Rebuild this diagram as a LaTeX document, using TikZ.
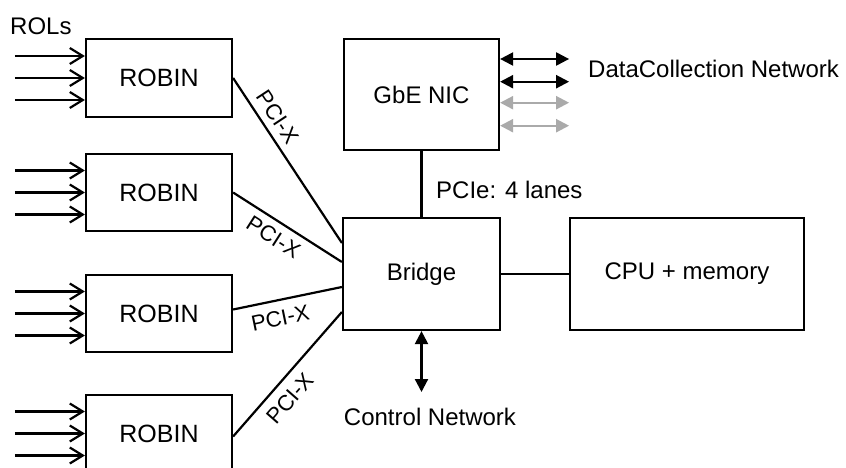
\documentclass[tikz,border=0pt]{standalone}
\usepackage{fontspec}
\setmainfont{Liberation Sans}
\usetikzlibrary{arrows.meta,calc}
\definecolor{lightgrayarrow}{HTML}{AAAAAA}
\begin{document}
\begin{tikzpicture}[x=1pt,y=-1pt,
  lw/.style={line width=2.2pt},
  box/.style={draw, line width=2.2pt, inner sep=0pt, font=\fontsize{24}{28}\selectfont},
  robin/.style={box, minimum width=146pt, minimum height=78pt, font=\fontsize{25}{30}\selectfont},
  lbl/.style={inner sep=0pt, font=\fontsize{24}{28}\selectfont},
  pcix/.style={sloped, inner sep=7pt, font=\fontsize{22}{26}\selectfont},
  rol/.style={line width=2.2pt, -{Straight Barb[length=13pt,width=16pt]}},
  dbl/.style={line width=2.2pt, {Triangle[length=13pt,width=13pt]}-{Triangle[length=13pt,width=13pt]}},
]
\useasboundingbox (0,0) rectangle (846,468);
\clip (0,0) rectangle (846,468);

% ROBIN boxes
\node[robin] (r1) at (159,78) {\raisebox{-2pt}{ROBIN}};
\node[robin, minimum height=77pt] (r2) at (159,192.5) {\raisebox{-2pt}{ROBIN}};
\node[robin, minimum height=77pt] (r3) at (159,313.5) {\raisebox{-2pt}{ROBIN}};
\node[robin, minimum height=77pt] (r4) at (159,433.5) {\raisebox{-2pt}{ROBIN}};

% main boxes
\node[box, minimum width=157pt, minimum height=112pt] (br) at (421.5,274) {Bridge};
\node[box, minimum width=155pt, minimum height=111pt] (nic) at (421.5,94.5) {\raisebox{-4pt}{GbE NIC}};
\node[box, minimum width=234pt, minimum height=112pt] (cpu) at (687,274) {CPU + memory};

% labels
\node[lbl, anchor=west] (rols) at (10,26) {ROLs};
\node[lbl, anchor=west] (dcn) at (588,69) {DataCollection Network};
\node[lbl, anchor=west] (pcie) at (436,189.5) {PCIe: 4 lanes};
\node[lbl] (ctl) at (430,417) {Control Network};

% ROL input arrows
\foreach \r in {r1,r2,r3,r4}
  \foreach \dy in {-22,0,22}
    \draw[rol] ($(\r.west)+(-70,\dy)$) -- ($(\r.west)+(0,\dy)$);

% PCI-X links
\draw[lw] (r1.east) -- ($(br.west)+(0,-31)$) node[pcix, pos=0.29, above] {PCI-X};
\draw[lw] (r2.east) -- ($(br.west)+(0,-12)$) node[pcix, pos=0.45, below] {PCI-X};
\draw[lw] ($(r3.east)+(0,-4)$) -- ($(br.west)+(0,13)$) node[pcix, pos=0.40, below, inner sep=9pt] {PCI-X};
\draw[lw] ($(r4.east)+(0,3)$) -- ($(br.west)+(0,38)$) node[pcix, pos=0.40, below, inner sep=9pt] {PCI-X};

% internal links
\draw[lw] (nic) -- (br);
\draw[lw] (br) -- (cpu);

% NIC network arrows
\foreach \dy/\c in {-35.5/black,-12.8/black,8.2/lightgrayarrow,31.2/lightgrayarrow}
  \draw[dbl, draw=\c, fill=\c] ($(nic.east)+(0,\dy)$) -- ($(nic.east)+(69,\dy)$);

% control network arrow
\coordinate (cn) at (421.5,392);
\draw[dbl] (br.south) -- (cn);
\end{tikzpicture}
\end{document}
